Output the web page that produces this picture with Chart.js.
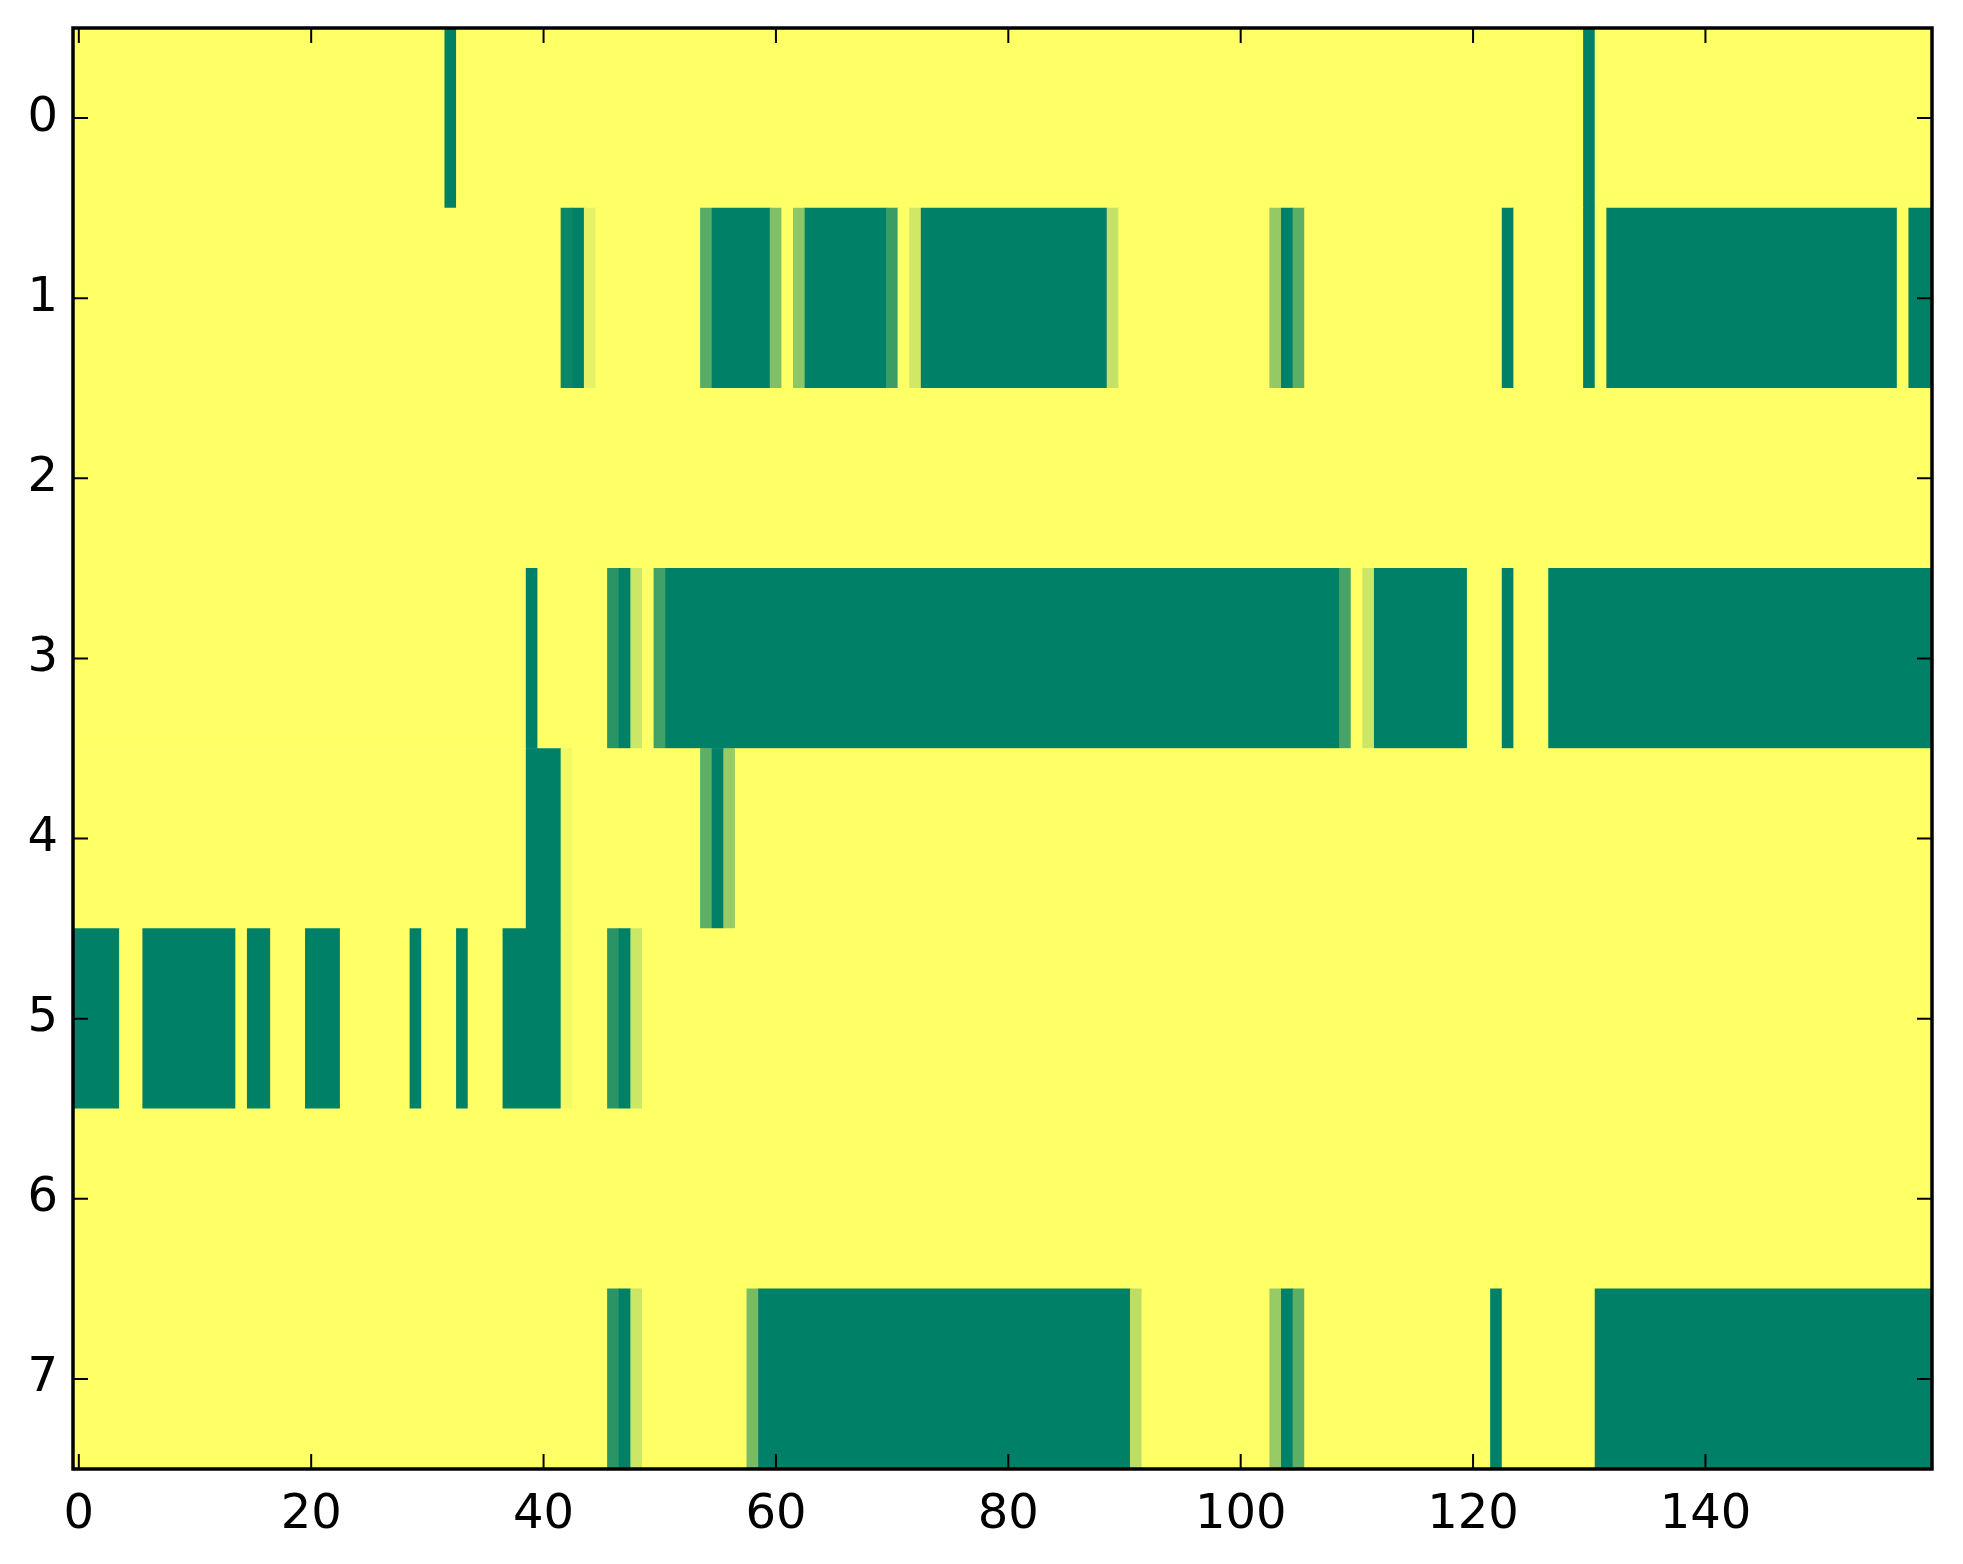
<!DOCTYPE html>
<html><head><meta charset="utf-8">
<script src="https://cdn.jsdelivr.net/npm/chart.js@4/dist/chart.umd.min.js"></script>
<style>html,body{margin:0;padding:0;background:#fff}canvas{display:block}</style>
</head><body>
<canvas id="c" width="1963" height="1564"></canvas>
<script>
// Grid size and tick labels
const nCols = 160;
const rowLabels = [0, 1, 2, 3, 4, 5, 6, 7];
const xTicks = [0, 20, 40, 60, 80, 100, 120, 140];

// Each row: runs of [firstColumn, lastColumn, value]; unlisted cells are 0
const row0 = [[32,32,1],[130,130,1]];
const row1 = [[42,42,0.95],[43,43,1],[44,44,0.1],[54,54,0.65],[55,59,1],[60,60,0.5],[62,62,0.45],[63,69,1],[70,70,0.77],[72,72,0.18],[73,88,1],[89,89,0.23],[103,103,0.42],[104,104,1],[105,105,0.63],[123,123,1],[130,130,1],[132,156,1],[158,159,1]];
const row2 = [];
const row3 = [[39,39,1],[46,46,0.84],[47,47,1],[48,48,0.2],[50,50,0.74],[51,108,1],[109,109,0.72],[111,111,0.2],[112,119,1],[123,123,1],[127,159,1]];
const row4 = [[39,41,1],[42,42,0.05],[54,54,0.63],[55,55,1],[56,56,0.41]];
const row5 = [[0,3,1],[6,13,1],[15,16,1],[20,22,1],[29,29,1],[33,33,1],[37,41,1],[42,42,0.05],[46,46,0.84],[47,47,1],[48,48,0.2]];
const row6 = [];
const row7 = [[46,46,0.84],[47,47,1],[48,48,0.2],[58,58,0.53],[59,90,1],[91,91,0.26],[103,103,0.41],[104,104,1],[105,105,0.63],[122,122,1],[131,159,1]];
const rows = [row0, row1, row2, row3, row4, row5, row6, row7];

// summer_r colormap
function summerR(v) {
  const r = Math.round(255 * (1 - v));
  const g = Math.round(255 * (1 - v / 2));
  return `rgb(${r},${g},102)`;
}

const bars = [];
const colors = [];
rows.forEach((runs, r) => {
  const vals = new Array(nCols).fill(0);
  runs.forEach(([a, b, v]) => { for (let c = a; c <= b; c++) vals[c] = v; });
  let s = 0;
  for (let c = 1; c <= nCols; c++) {
    if (c === nCols || vals[c] !== vals[s]) {
      bars.push({ y: rowLabels[r], x: [s - 0.5, c - 0.5] });
      colors.push(summerR(vals[s]));
      s = c;
    }
  }
});

const framePlugin = {
  id: 'frame',
  afterDatasetsDraw(chart) {
    const { ctx, chartArea: a, scales: { x, y } } = chart;
    const tl = 15;
    ctx.save();
    ctx.strokeStyle = '#000';
    ctx.lineWidth = 2;
    ctx.beginPath();
    x.ticks.forEach(t => {
      const px = x.getPixelForValue(t.value);
      ctx.moveTo(px, a.bottom); ctx.lineTo(px, a.bottom - tl);
      ctx.moveTo(px, a.top); ctx.lineTo(px, a.top + tl);
    });
    y.ticks.forEach(t => {
      const py = y.getPixelForValue(t.value);
      ctx.moveTo(a.left, py); ctx.lineTo(a.left + tl, py);
      ctx.moveTo(a.right, py); ctx.lineTo(a.right - tl, py);
    });
    ctx.stroke();
    ctx.lineWidth = 3.5;
    ctx.strokeRect(a.left, a.top, a.right - a.left, a.bottom - a.top);
    ctx.restore();
  }
};

const tickFont = { family: 'DejaVu Sans', size: 48 };

new Chart(document.getElementById('c'), {
  type: 'bar',
  data: {
    datasets: [{
      data: bars,
      backgroundColor: colors,
      borderWidth: 0,
      barPercentage: 1,
      categoryPercentage: 1
    }]
  },
  options: {
    indexAxis: 'y',
    responsive: false,
    animation: false,
    devicePixelRatio: 1,
    plugins: { legend: { display: false }, tooltip: { enabled: false } },
    layout: { padding: { top: 28, right: 31, left: 0, bottom: 0 } },
    scales: {
      x: {
        type: 'linear', min: -0.5, max: nCols - 0.5, offset: false,
        grid: { display: false }, border: { display: false },
        afterBuildTicks: s => { s.ticks = xTicks.map(v => ({ value: v })); },
        afterFit: s => { s.height = 95; s.paddingLeft = 0; s.paddingRight = 0; },
        ticks: { font: tickFont, color: '#000', padding: 10, maxRotation: 0, autoSkip: false }
      },
      y: {
        type: 'linear', reverse: true, min: -0.5, max: rowLabels.length - 0.5, offset: false,
        grid: { display: false, offset: false }, border: { display: false },
        afterBuildTicks: s => { s.ticks = rowLabels.map(v => ({ value: v })); },
        afterFit: s => { s.width = 73; s.paddingTop = 0; s.paddingBottom = 0; },
        ticks: { font: tickFont, color: '#000', padding: 7, autoSkip: false }
      }
    }
  },
  plugins: [framePlugin]
});
</script>
</body></html>
